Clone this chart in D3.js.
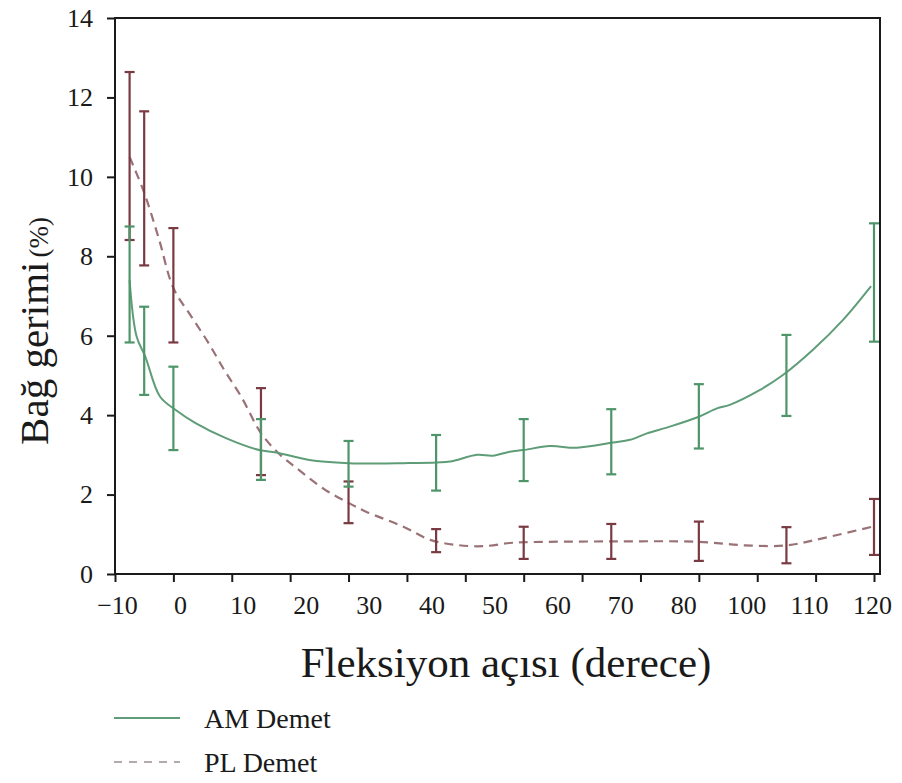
<!DOCTYPE html>
<html>
<head>
<meta charset="utf-8">
<script src="https://cdn.jsdelivr.net/npm/d3@7"></script>
<style>
  html, body { margin: 0; padding: 0; background: #fff; }
  svg { display: block; }
  text { font-family: "Liberation Serif", "DejaVu Serif", serif; fill: #1a1a1a; }
</style>
</head>
<body>
<svg id="chart" width="902" height="783"></svg>
<script>
// ---- data ----
const barAngles = [-7.5, -5, 0, 15, 30, 45, 60, 75, 90, 105, 120];
const amLow  = [5.83, 4.51, 3.12, 2.37, 2.20, 2.10, 2.34, 2.51, 3.16, 3.98, 5.85];
const amHigh = [8.75, 6.73, 5.22, 3.90, 3.35, 3.50, 3.90, 4.15, 4.78, 6.02, 8.83];
const plLow  = [8.41, 7.77, 5.83, 2.49, 1.28, 0.55, 0.38, 0.38, 0.33, 0.27, 0.48];
const plHigh = [12.64, 11.65, 8.71, 4.68, 2.33, 1.13, 1.19, 1.26, 1.32, 1.18, 1.89];

// AM (solid) curve
const amCurveX = [-7.5, -6.3, -4.8, -2.3, 0.4, 3.8, 9, 14.7, 17.6, 23.3, 30.1, 35, 39.3, 45.1, 47.4, 52, 54.7, 57.6, 59.9, 64.5, 69.1, 75.3, 78.2, 81.1, 85, 90, 93.1, 95.3, 100.4, 104.4, 109.5, 114.7, 119.5];
const amCurveY = [7.4, 5.98, 5.47, 4.47, 4.13, 3.80, 3.42, 3.12, 3.06, 2.87, 2.79, 2.78, 2.79, 2.81, 2.83, 3.0, 2.98, 3.08, 3.12, 3.22, 3.18, 3.31, 3.38, 3.54, 3.71, 3.96, 4.17, 4.26, 4.63, 5.01, 5.64, 6.4, 7.25];

// PL (dashed) curve
const plCurveX = [-7.5, -5, -2.5, 0, 3, 6, 8.7, 11.6, 15, 18, 20.8, 26, 30, 33, 39.4, 44, 48.6, 53, 57.6, 60, 75, 90, 98, 105, 110, 120];
const plCurveY = [10.5, 9.6, 8.45, 7.2, 6.5, 5.82, 5.14, 4.47, 3.55, 3.04, 2.7, 2.12, 1.79, 1.57, 1.19, 0.86, 0.73, 0.70, 0.78, 0.80, 0.82, 0.81, 0.72, 0.72, 0.86, 1.2];

const xTickValues = [-10, 0, 10, 20, 30, 40, 50, 60, 70, 80, 90, 100, 110, 120];
const xTickLabels = ["\u221210", "0", "10", "20", "30", "40", "50", "60", "70", "80", "100", "110", "120"];
const yTickValues = [0, 2, 4, 6, 8, 10, 12, 14];

const seriesNames = ["AM Demet", "PL Demet"];

// ---- layout ----
const svg = d3.select("#chart");
const mLeft = 115, mRight = 880, mTop = 18, mBottom = 574;
const x = d3.scaleLinear().domain([-10, 120]).range([mLeft, 874]);
const y = d3.scaleLinear().domain([0, 14]).range([mBottom, mTop]);
const xLab = d3.scalePoint().domain(xTickLabels).range([117, 872]);

const green = "#4e9569";
const greenLine = "#5e9d78";
const maroon = "#7a3a42";
const dashCol = "#9a7276";
const axisCol = "#1a1a1a";

// frame
svg.append("rect")
  .attr("x", mLeft).attr("y", mTop)
  .attr("width", mRight - mLeft).attr("height", mBottom - mTop)
  .attr("fill", "none").attr("stroke", axisCol).attr("stroke-width", 2);

// y axis
const yAxis = svg.append("g").attr("transform", `translate(${mLeft},0)`)
  .call(d3.axisLeft(y).tickValues(yTickValues).tickSize(8).tickPadding(14).tickFormat(d3.format("d")));
yAxis.select(".domain").remove();
yAxis.selectAll("line").attr("stroke", axisCol).attr("stroke-width", 2);
yAxis.selectAll("text").attr("font-size", 26).attr("font-family", "Liberation Serif").attr("fill", "#333");

// x axis ticks
const xAxis = svg.append("g").attr("transform", `translate(0,${mBottom})`)
  .call(d3.axisBottom(x).tickValues(xTickValues).tickSize(8).tickFormat(""));
xAxis.select(".domain").remove();
xAxis.selectAll("line").attr("stroke", axisCol).attr("stroke-width", 2);

// x axis labels (placed as in picture)
const xLabAxis = svg.append("g").attr("transform", `translate(0,${mBottom})`)
  .call(d3.axisBottom(xLab).tickSize(0).tickPadding(22));
xLabAxis.select(".domain").remove();
xLabAxis.selectAll("text").attr("font-size", 26).attr("font-family", "Liberation Serif").attr("fill", "#333");

// axis titles
svg.append("text")
  .attr("x", 506).attr("y", 677)
  .attr("text-anchor", "middle")
  .attr("font-size", 43)
  .text("Fleksiyon açısı (derece)");

const yt = svg.append("text")
  .attr("transform", "translate(48,331) rotate(-90)")
  .attr("text-anchor", "middle");
yt.append("tspan").attr("font-size", 41).text("Bağ gerimi");
yt.append("tspan").attr("font-size", 27).attr("dx", 4).text("(%)");

// curves
const amPts = amCurveX.map((v, i) => [v, amCurveY[i]]);
const plPts = plCurveX.map((v, i) => [v, plCurveY[i]]);
const line = d3.line().x(d => x(d[0])).y(d => y(d[1])).curve(d3.curveCatmullRom.alpha(0.5));

svg.append("path").datum(plPts)
  .attr("d", line).attr("fill", "none")
  .attr("stroke", dashCol).attr("stroke-width", 2.2).attr("stroke-dasharray", "9,6");

svg.append("path").datum(amPts)
  .attr("d", line).attr("fill", "none")
  .attr("stroke", greenLine).attr("stroke-width", 2);

// error bars
function errorBars(lows, highs, color, cls) {
  const data = barAngles.map((a, i) => ({ a, lo: lows[i], hi: highs[i] }));
  const g = svg.append("g").attr("class", cls).attr("stroke", color).attr("stroke-width", 2.2);
  const cap = 5;
  g.selectAll("line.v").data(data).join("line").attr("class", "v")
    .attr("x1", d => x(d.a)).attr("x2", d => x(d.a))
    .attr("y1", d => y(d.lo)).attr("y2", d => y(d.hi));
  g.selectAll("line.t").data(data).join("line").attr("class", "t")
    .attr("x1", d => x(d.a) - cap).attr("x2", d => x(d.a) + cap)
    .attr("y1", d => y(d.hi)).attr("y2", d => y(d.hi));
  g.selectAll("line.b").data(data).join("line").attr("class", "b")
    .attr("x1", d => x(d.a) - cap).attr("x2", d => x(d.a) + cap)
    .attr("y1", d => y(d.lo)).attr("y2", d => y(d.lo));
}
errorBars(plLow, plHigh, maroon, "pl");
errorBars(amLow, amHigh, green, "am");

// legend
const legend = svg.append("g");
const legendY = [718, 762];
legend.append("line").attr("x1", 114).attr("x2", 180).attr("y1", legendY[0]).attr("y2", legendY[0])
  .attr("stroke", greenLine).attr("stroke-width", 2.2);
legend.append("line").attr("x1", 114).attr("x2", 180).attr("y1", legendY[1]).attr("y2", legendY[1])
  .attr("stroke", "#9a9090").attr("stroke-width", 1.6).attr("stroke-dasharray", "8,7");
legend.selectAll("text").data(seriesNames).join("text")
  .attr("x", 204).attr("y", (d, i) => legendY[i] + 10)
  .attr("font-size", 28)
  .text(d => d);
</script>
</body>
</html>
